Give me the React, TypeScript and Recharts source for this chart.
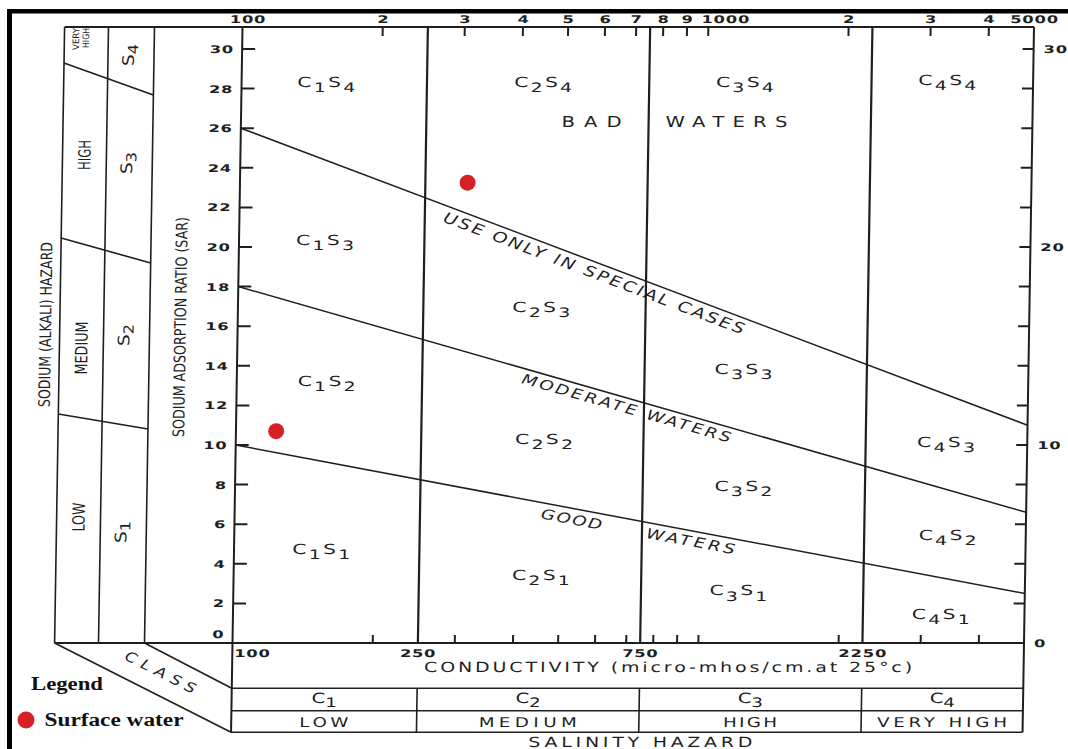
import React from 'react';
import { ComposedChart, XAxis, YAxis, ReferenceLine, Scatter } from 'recharts';

// ---------------- data ----------------
const conductivityDomain = [100, 5000];
const sarDomain = [0, 31.11];
const salinityClassBounds = [250, 750, 2250];
const sodiumLineSarAt100 = [10, 18, 26];
const sodiumLineSarAt5000 = [2.5, 6.6, 11];

const topTickValues = [100, 200, 300, 400, 500, 600, 700, 800, 900, 1000, 2000, 3000, 4000, 5000];
const topTickLabels = ['100', '2', '3', '4', '5', '6', '7', '8', '9', '1000', '2', '3', '4', '5000'];
const bottomTickValues = [100, 200, 250, 300, 400, 500, 600, 700, 750, 800, 900, 1000, 2000, 2250, 3000, 4000];
const bottomLabelledTicks = [100, 250, 750, 2250];
const sarTicks = [0, 2, 4, 6, 8, 10, 12, 14, 16, 18, 20, 22, 24, 26, 28, 30];
const rightLabelledTicks = [0, 10, 20, 30];

const surfaceWaterEC = [308, 122];
const surfaceWaterSAR = [23.25, 10.7];

const regionSalinityClass = [1, 2, 3, 4, 1, 2, 3, 4, 1, 2, 3, 4, 1, 2, 3, 4];
const regionSodiumClass = [4, 4, 4, 4, 3, 3, 3, 3, 2, 2, 2, 2, 1, 1, 1, 1];
const regionLabelEC = [152, 444, 1204, 3273, 153, 448, 1223, 3347, 156, 459, 1234, 3401, 154, 457, 1214, 3308];
const regionLabelSAR = [28.2, 28.2, 28.2, 28.3, 20.2, 16.8, 13.7, 10.0, 13.1, 10.15, 7.8, 5.3, 4.6, 3.3, 2.5, 1.3];

const zoneTexts = ['BAD', 'WATERS', 'USE ONLY IN SPECIAL CASES', 'MODERATE WATERS', 'GOOD', 'WATERS'];
const zoneTextEC = [566, 1102, 580, 688, 529, 955];
const zoneTextSAR = [26.31, 26.31, 18.69, 11.87, 6.26, 5.15];
const zoneTextLine = [-1, -1, 2, 1, 0, 0];

const salinityClassNames = ['LOW', 'MEDIUM', 'HIGH', 'VERY HIGH'];
const sodiumClassNames = ['LOW', 'MEDIUM', 'HIGH'];

// ---------------- layout / style ----------------
const W = 1068;
const H = 749;
const PL = 237.5;
const PR = 1029;
const PT = 27;
const PB = 643;
const TOP_AXIS_H = 20;
const BOTTOM_AXIS_H = 30;
const LEFT_AXIS_W = 40;
const RIGHT_AXIS_W = 30;
const ROW1 = 688.3;
const ROW2 = 710.7;
const ROW3 = 732.3;
const X0 = 59.6;
const X1 = 103.5;
const X2 = 149.5;

const INK = '#1f1f1f';
const LETTER = "'DejaVu Sans', 'Liberation Sans', sans-serif";
const CONDENSED = "'Liberation Sans Narrow', 'DejaVu Sans Condensed', 'Liberation Sans', sans-serif";
const SERIF = "'Liberation Serif', 'DejaVu Serif', serif";
const DIGIT_SIZE = 10.5;
const DIGIT_SX = 1.55;

const ZONE_STYLE = [
  { len: 60, size: 15, italic: false, sx: 1.3 },
  { len: 122, size: 15, italic: false, sx: 1.3 },
  { len: 322, size: 15, italic: true, sx: 1.25 },
  { len: 218, size: 14, italic: true, sx: 1.3 },
  { len: 62, size: 14, italic: true, sx: 1.3 },
  { len: 90, size: 14, italic: true, sx: 1.3 },
];

const px = (v: number) =>
  PL + ((Math.log10(v) - Math.log10(conductivityDomain[0])) /
    (Math.log10(conductivityDomain[1]) - Math.log10(conductivityDomain[0]))) * (PR - PL);

const pxPerSar = (PB - PT) / sarDomain[1];

const lineAngle = (i: number) => {
  if (i < 0) return 0;
  const dy = (sodiumLineSarAt100[i] - sodiumLineSarAt5000[i]) * pxPerSar;
  return (Math.atan2(dy, PR - PL) * 180) / Math.PI;
};

// wide "lettering guide" style text
const Wide = ({ x, y, angle = 0, sx = 1.3, len, size, anchor = 'middle', italic = false, weight = 400, dy, children }: any) => (
  <text
    transform={`translate(${x},${y}) rotate(${angle}) scale(${sx},1)`}
    x={0}
    y={0}
    dy={dy}
    textAnchor={anchor}
    fontFamily={LETTER}
    fontSize={size}
    fontStyle={italic ? 'italic' : 'normal'}
    fontWeight={weight}
    fill={INK}
    textLength={len ? len / sx : undefined}
    lengthAdjust="spacing"
  >
    {children}
  </text>
);

const digitLen = (s: string) => (s.length > 1 ? s.length * 12.2 - 1 : undefined);

// ---------------- tick renderers ----------------
const TopTick = (props: any) => {
  const { x, y, payload } = props;
  const v = payload.value;
  const label = topTickLabels[topTickValues.indexOf(v)];
  const edge = v === 100 || v === 5000;
  const isThousand = v === 1000;
  return (
    <g>
      {!edge && <line x1={x} x2={x} y1={y} y2={y + 9} stroke={INK} strokeWidth={2} />}
      <Wide
        x={isThousand ? x - 7 : v === 100 ? x + 5 : x}
        y={y - 4}
        anchor={isThousand ? 'start' : 'middle'}
        size={DIGIT_SIZE}
        sx={DIGIT_SX}
        weight={700}
        len={digitLen(label)}
      >
        {label}
      </Wide>
    </g>
  );
};

const BottomTick = (props: any) => {
  const { x, y, payload } = props;
  const v = payload.value;
  const labelled = bottomLabelledTicks.includes(v);
  const minor = !salinityClassBounds.includes(v) && v !== 100;
  const label = String(v);
  return (
    <g>
      {minor && <line x1={x} x2={x} y1={y} y2={y - 8} stroke={INK} strokeWidth={2} />}
      {labelled && (
        <Wide
          x={v === 100 ? x + 2 : x}
          y={y + 13.5}
          anchor={v === 100 ? 'start' : 'middle'}
          size={DIGIT_SIZE}
          sx={DIGIT_SX}
          weight={700}
          len={label.length * 12.5 - 2}
        >
          {label}
        </Wide>
      )}
    </g>
  );
};

const LeftTick = (props: any) => {
  const { x, y, payload } = props;
  const v = payload.value;
  const label = String(v);
  return (
    <g>
      {v !== 0 && <line x1={x} x2={x + 13} y1={y} y2={y} stroke={INK} strokeWidth={2} />}
      <Wide x={x - 9} y={v === 0 ? y - 5.5 : y + 4} anchor="end" size={DIGIT_SIZE} sx={DIGIT_SX} weight={700} len={digitLen(label)}>
        {label}
      </Wide>
    </g>
  );
};

const RightTick = (props: any) => {
  const { x, y, payload } = props;
  const v = payload.value;
  const label = String(v);
  return (
    <g>
      {v !== 0 && <line x1={x - 11} x2={x} y1={y} y2={y} stroke={INK} strokeWidth={2} />}
      {rightLabelledTicks.includes(v) && (
        <Wide x={x + 10} y={y + 4} anchor="start" size={DIGIT_SIZE} sx={DIGIT_SX} weight={700} len={digitLen(label)}>
          {label}
        </Wide>
      )}
    </g>
  );
};

// ---------------- series shapes ----------------
const RegionShape = (p: any) => {
  const { cx, cy, payload } = p;
  const sx = 1.45;
  return (
    <text
      transform={`translate(${cx},${cy + 2}) scale(${sx},1)`}
      x={0}
      y={0}
      textAnchor="middle"
      fontFamily={LETTER}
      fontSize={14}
      fill={INK}
      textLength={58 / sx}
      lengthAdjust="spacing"
    >
      C<tspan dy={5} fontSize={13}>{payload.c}</tspan><tspan dy={-5} fontSize={14}>S</tspan><tspan dy={5} fontSize={13}>{payload.s}</tspan>
    </text>
  );
};

const ZoneShape = (p: any) => {
  const { cx, cy, payload } = p;
  const st = ZONE_STYLE[payload.i];
  return (
    <Wide x={cx} y={cy} dy="0.36em" angle={lineAngle(payload.line)} sx={st.sx} len={st.len} size={st.size} italic={st.italic}>
      {payload.text}
    </Wide>
  );
};

const SampleShape = (p: any) => <circle cx={p.cx} cy={p.cy} r={8} fill="#d71f26" />;

// ---------------- overlay helpers ----------------
const RotText = ({ cx, cy, len, size, children, family = CONDENSED }: any) => (
  <text
    transform={`translate(${cx},${cy}) rotate(-90)`}
    x={0}
    y={size * 0.36}
    textAnchor="middle"
    fontFamily={family}
    fontSize={size}
    fill={INK}
    textLength={len}
    lengthAdjust="spacingAndGlyphs"
  >
    {children}
  </text>
);

const Decorations = () => {
  const bounds = [conductivityDomain[0], ...salinityClassBounds, conductivityDomain[1]];
  const cellCenters = bounds.slice(0, -1).map((b, i) => (px(b) + px(bounds[i + 1])) / 2);
  const salinityLens = [49, 98, 54, 130];
  return (
    <svg width={W} height={H} style={{ position: 'absolute', left: 0, top: 0, pointerEvents: 'none' }}>
      <g stroke={INK} strokeWidth={1.6} fill="none">
        {/* left 3D panel */}
        <line x1={X0} y1={PT} x2={PR} y2={PT} strokeWidth={2} />
        <line x1={X0} y1={PB} x2={PL} y2={PB} strokeWidth={2} />
        <line x1={X0} y1={PT} x2={X0} y2={PB} />
        <line x1={X1} y1={PT} x2={X1} y2={PB} />
        <line x1={X2} y1={PT} x2={X2} y2={PB} />
        <line x1={X0} y1={63} x2={X2} y2={95} />
        <line x1={X0} y1={238} x2={X2} y2={263} />
        <line x1={X0} y1={414} x2={X2} y2={429} />
        <line x1={X0} y1={PB} x2={PL} y2={ROW3} />
        <line x1={X2} y1={PB} x2={PL} y2={ROW1} />
        {/* salinity table */}
        <line x1={PL} y1={PB} x2={PL} y2={ROW3} strokeWidth={2} />
        <line x1={PR} y1={PB} x2={PR} y2={ROW3} strokeWidth={2} />
        <line x1={PL} y1={ROW1} x2={PR} y2={ROW1} />
        <line x1={PL} y1={ROW2} x2={PR} y2={ROW2} />
        <line x1={PL} y1={ROW3} x2={PR} y2={ROW3} />
        {salinityClassBounds.map((b) => (
          <line key={b} x1={px(b)} y1={ROW1} x2={px(b)} y2={ROW3} />
        ))}
      </g>

      {/* left panel texts */}
      <RotText cx={45.2} cy={324.5} len={165} size={16}>SODIUM (ALKALI) HAZARD</RotText>
      <RotText cx={180} cy={327} len={220} size={16}>SODIUM ADSORPTION RATIO (SAR)</RotText>
      <RotText cx={71} cy={39} len={22} size={9}>VERY</RotText>
      <RotText cx={81} cy={38} len={20} size={9}>HIGH</RotText>
      <RotText cx={81.5} cy={155} len={30} size={17}>{sodiumClassNames[2]}</RotText>
      <RotText cx={81.5} cy={348} len={53} size={17}>{sodiumClassNames[1]}</RotText>
      <RotText cx={81.5} cy={517} len={29} size={17}>{sodiumClassNames[0]}</RotText>
      {[4, 3, 2, 1].map((s, i) => (
        <text
          key={s}
          transform={`translate(${126.5},${[55, 163, 335, 532][i]}) rotate(-90) scale(1.15,1)`}
          x={0}
          y={3}
          textAnchor="middle"
          fontFamily={LETTER}
          fontSize={16}
          fill={INK}
        >
          S<tspan dy={4} fontSize={14}>{s}</tspan>
        </text>
      ))}
      <Wide x={166} y={672} angle={26.7} dy={5} sx={1.2} len={78} size={14} italic>
        CLASS
      </Wide>

      {/* bottom texts */}
      <Wide x={673.5} y={672} sx={1.35} len={488} size={14}>
        CONDUCTIVITY (micro-mhos/cm.at 25°c)
      </Wide>
      {cellCenters.map((c, i) => (
        <text
          key={'c' + i}
          transform={`translate(${c},${703}) scale(1.4,1)`}
          x={0}
          y={0}
          textAnchor="middle"
          fontFamily={LETTER}
          fontSize={14}
          fill={INK}
        >
          C<tspan dy={4} fontSize={13}>{i + 1}</tspan>
        </text>
      ))}
      {cellCenters.map((c, i) => (
        <Wide key={'n' + i} x={c} y={726.5} sx={1.35} len={salinityLens[i]} size={13.5}>
          {salinityClassNames[i]}
        </Wide>
      ))}
      <Wide x={647} y={747} sx={1.35} len={224} size={14}>
        SALINITY HAZARD
      </Wide>
    </svg>
  );
};

const FrameAndLegend = () => (
  <svg width={W} height={H} style={{ position: 'absolute', left: 0, top: 0, pointerEvents: 'none' }}>
    <rect x={7} y={9} width={W - 7} height={4.5} fill="#000" />
    <rect x={7} y={9} width={5} height={H - 9} fill="#000" />
    <text x={31} y={690} fontFamily={SERIF} fontWeight={700} fontSize={18} fill="#111" textLength={72} lengthAdjust="spacingAndGlyphs">
      Legend
    </text>
    <circle cx={26} cy={720} r={8.5} fill="#d71f26" />
    <text x={44.5} y={726} fontFamily={SERIF} fontWeight={700} fontSize={18} fill="#111" textLength={139} lengthAdjust="spacingAndGlyphs">
      Surface water
    </text>
  </svg>
);

export default function App() {
  const regionData = regionLabelEC.map((x, i) => ({
    x,
    y: regionLabelSAR[i],
    c: regionSalinityClass[i],
    s: regionSodiumClass[i],
  }));
  const zoneData = zoneTexts.map((text, i) => ({
    x: zoneTextEC[i],
    y: zoneTextSAR[i],
    text,
    i,
    line: zoneTextLine[i],
  }));
  const sampleData = surfaceWaterEC.map((x, i) => ({ x, y: surfaceWaterSAR[i] }));

  return (
    <div style={{ position: 'absolute', left: 0, top: 0, width: W, height: H, background: '#fff', overflow: 'hidden' }}>
      <div
        style={{
          position: 'absolute',
          left: 0,
          top: 0,
          width: W,
          height: H,
          transform: 'skewX(-0.93deg)',
          transformOrigin: '0 335px',
        }}
      >
        <ComposedChart
          width={W}
          height={H}
          margin={{ top: PT - TOP_AXIS_H, bottom: H - PB - BOTTOM_AXIS_H, left: PL - LEFT_AXIS_W, right: W - PR - RIGHT_AXIS_W }}
        >
          <XAxis
            xAxisId="top"
            orientation="top"
            dataKey="x"
            type="number"
            scale="log"
            domain={conductivityDomain}
            allowDataOverflow
            ticks={topTickValues}
            interval={0}
            height={TOP_AXIS_H}
            tickSize={0}
            tickMargin={0}
            tickLine={false}
            tick={TopTick}
            axisLine={{ stroke: INK, strokeWidth: 2 }}
          />
          <XAxis
            xAxisId="bottom"
            orientation="bottom"
            dataKey="x"
            type="number"
            scale="log"
            domain={conductivityDomain}
            allowDataOverflow
            ticks={bottomTickValues}
            interval={0}
            height={BOTTOM_AXIS_H}
            tickSize={0}
            tickMargin={0}
            tickLine={false}
            tick={BottomTick}
            axisLine={{ stroke: INK, strokeWidth: 2 }}
          />
          <YAxis
            yAxisId="left"
            orientation="left"
            dataKey="y"
            type="number"
            domain={sarDomain}
            allowDataOverflow
            ticks={sarTicks}
            interval={0}
            width={LEFT_AXIS_W}
            tickSize={0}
            tickMargin={0}
            tickLine={false}
            tick={LeftTick}
            axisLine={{ stroke: INK, strokeWidth: 2 }}
          />
          <YAxis
            yAxisId="right"
            orientation="right"
            dataKey="y"
            type="number"
            domain={sarDomain}
            allowDataOverflow
            ticks={sarTicks}
            interval={0}
            width={RIGHT_AXIS_W}
            tickSize={0}
            tickMargin={0}
            tickLine={false}
            tick={RightTick}
            axisLine={{ stroke: INK, strokeWidth: 2 }}
          />
          {salinityClassBounds.map((b) => (
            <ReferenceLine key={'v' + b} x={b} xAxisId="bottom" yAxisId="left" stroke={INK} strokeWidth={2.2} />
          ))}
          {sodiumLineSarAt100.map((s, i) => (
            <ReferenceLine
              key={'d' + i}
              xAxisId="bottom"
              yAxisId="left"
              segment={[
                { x: conductivityDomain[0], y: s },
                { x: conductivityDomain[1], y: sodiumLineSarAt5000[i] },
              ]}
              stroke={INK}
              strokeWidth={1.5}
            />
          ))}
          <Scatter xAxisId="bottom" yAxisId="left" data={regionData} shape={RegionShape} isAnimationActive={false} />
          <Scatter xAxisId="bottom" yAxisId="left" data={zoneData} shape={ZoneShape} isAnimationActive={false} />
          <Scatter
            name="Surface water"
            xAxisId="bottom"
            yAxisId="left"
            data={sampleData}
            shape={SampleShape}
            isAnimationActive={false}
          />
        </ComposedChart>
        <Decorations />
      </div>
      <FrameAndLegend />
    </div>
  );
}
